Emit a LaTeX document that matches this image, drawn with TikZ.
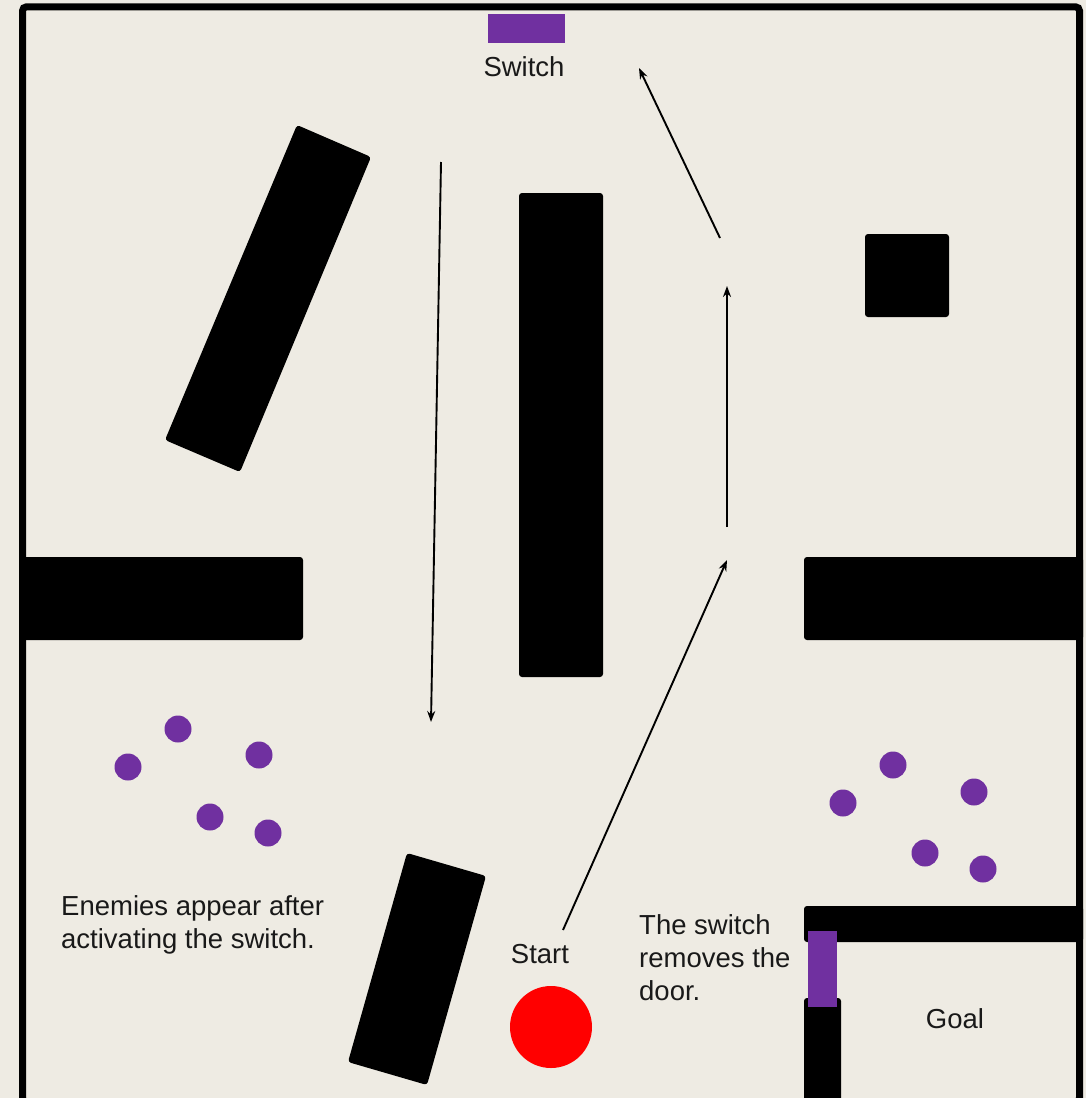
\documentclass[tikz,border=0pt]{standalone}
\usepackage{fontspec}
\setmainfont{Liberation Sans}
\usetikzlibrary{arrows.meta}
\definecolor{bg}{HTML}{EEEBE3}
\definecolor{purp}{HTML}{7030A0}
\definecolor{startred}{HTML}{FF0000}
\tikzset{
  wall/.style={fill=black, draw=none, rounded corners=3pt},
  door/.style={fill=purp, draw=none},
  enemy/.style={circle, fill=purp, minimum size=27pt, inner sep=0pt},
  lbl/.style={font=\fontsize{27.5}{33}\selectfont, text=black!90, inner sep=0pt},
  path/.style={line width=1.9pt, -{Stealth[length=11pt,width=8pt]}},
}
\begin{document}
\begin{tikzpicture}[x=1pt,y=-1pt]
\useasboundingbox (0,0) rectangle (1086,1098);
\fill[bg] (0,0) rectangle (1086,1098);
\begin{scope}
\clip (0,0) rectangle (1086,1098);
\draw[line width=7pt, rounded corners=4pt] (22.5,6.8) rectangle (1079.5,1102);
% walls
\fill[wall] (297,125) -- (371,157) -- (240,472) -- (165,440) -- cycle;
\fill[wall] (519,193) rectangle (603,677);
\fill[wall] (865,234) rectangle (949,317);
\fill[wall] (20,557) rectangle (303,640);
\fill[wall] (804,557) rectangle (1083,640);
\fill[wall] (407,853) -- (486,876) -- (427,1085) -- (348,1062) -- cycle;
\fill[wall] (804,906) rectangle (1083,942);
\fill[wall] (804,998) rectangle (841,1110);
\end{scope}
% doors / switch
\node[door, minimum width=77pt, minimum height=29pt, inner sep=0pt] (switch) at (526.5,28.5) {};
\node[door, minimum width=29pt, minimum height=76pt, inner sep=0pt] (gate) at (822.5,969) {};
% labels
\node[lbl] (switchlbl) at (524,67) {Switch};
\node[lbl] (startlbl) at (540,954) {Start};
\node[lbl] (goallbl) at (955,1019) {Goal};
\node[lbl, anchor=north west, align=left] (doornote) at (639,914) {The switch\\removes the\\door.};
\node[lbl, anchor=north west, align=left] (enemynote) at (61,895) {Enemies appear after\\activating the switch.};
% start
\node[circle, fill=startred, minimum size=82pt, inner sep=0pt] (start) at (551,1027) {};
% enemies
\node[enemy] (e1) at (178,729) {};
\node[enemy] (e2) at (128,767) {};
\node[enemy] (e3) at (259,755) {};
\node[enemy] (e4) at (210,817) {};
\node[enemy] (e5) at (268,833) {};
\node[enemy] (e6) at (893,765) {};
\node[enemy] (e7) at (843,803) {};
\node[enemy] (e8) at (974,792) {};
\node[enemy] (e9) at (925,853) {};
\node[enemy] (e10) at (983,869) {};
% path coordinates
\coordinate (a1) at (441,162);
\coordinate (a2) at (431,722);
\coordinate (b1) at (563,930);
\coordinate (b2) at (727,560);
\coordinate (c1) at (727,527);
\coordinate (c2) at (727,286);
\coordinate (d1) at (720,238);
\coordinate (d2) at (639,68);
\draw[path] (a1) -- (a2);
\draw[path] (b1) -- (b2);
\draw[path] (c1) -- (c2);
\draw[path] (d1) -- (d2);
\end{tikzpicture}
\end{document}
